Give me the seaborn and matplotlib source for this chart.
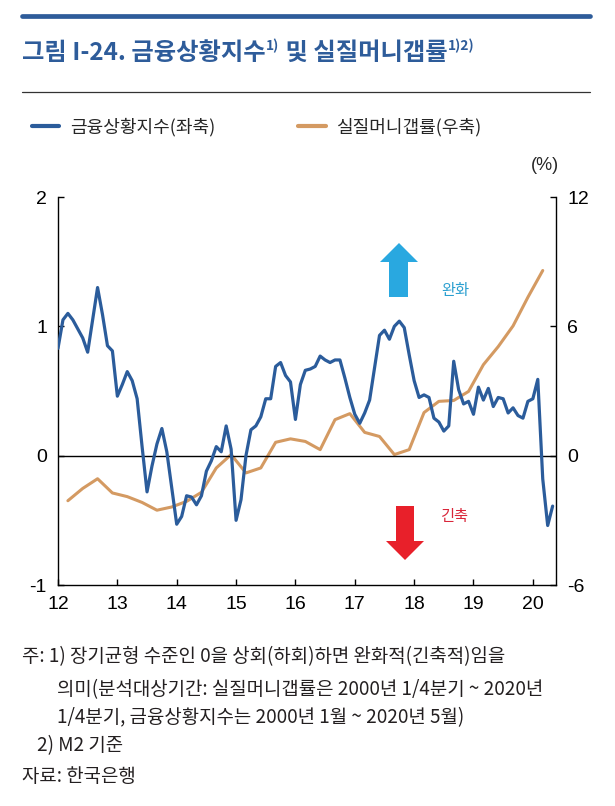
import pandas as pd
import matplotlib.pyplot as plt
import matplotlib.patches as mpatches
from matplotlib.lines import Line2D
import seaborn as sns

# 금융상황지수 (monthly, 2012.1 ~ 2020.5)
fci = [0.83, 1.05, 1.10, 1.05, 0.98, 0.91, 0.80, 1.05, 1.30, 1.09, 0.85, 0.81,
       0.46, 0.55, 0.65, 0.58, 0.44, 0.07, -0.28, -0.08, 0.09, 0.21, 0.03, -0.25,
       -0.53, -0.47, -0.31, -0.32, -0.38, -0.31, -0.12, -0.04, 0.07, 0.03, 0.23, 0.05,
       -0.50, -0.34, 0.00, 0.20, 0.23, 0.30, 0.44, 0.44, 0.69, 0.72, 0.62, 0.57,
       0.28, 0.55, 0.66, 0.67, 0.69, 0.77, 0.74, 0.72, 0.74, 0.74, 0.60, 0.45,
       0.32, 0.25, 0.33, 0.43, 0.68, 0.93, 0.97, 0.90, 1.00, 1.04, 0.99, 0.78,
       0.58, 0.45, 0.47, 0.45, 0.29, 0.26, 0.19, 0.23, 0.73, 0.51, 0.40, 0.42,
       0.32, 0.53, 0.43, 0.52, 0.38, 0.45, 0.44, 0.33, 0.37, 0.31, 0.29, 0.42,
       0.44, 0.59, -0.18, -0.54, -0.39]

# 실질머니갭률 (quarterly, 2012 Q1 ~ 2020 Q1, %)
money_gap = [-2.09, -1.52, -1.07, -1.73,
             -1.90, -2.17, -2.53, -2.38,
             -2.12, -1.70, -0.57, 0.05,
             -0.80, -0.57, 0.62, 0.78,
             0.66, 0.28, 1.67, 1.95,
             1.08, 0.89, 0.05, 0.28,
             2.00, 2.52, 2.56, 2.98,
             4.22, 5.06, 6.02, 7.35,
             8.59]

years = list(range(2012, 2021))
year_labels = ['12', '13', '14', '15', '16', '17', '18', '19', '20']

m_dates = pd.date_range('2012-01-01', periods=len(fci), freq='MS')
q_dates = pd.date_range('2012-03-01', periods=len(money_gap), freq='3MS')
df_m = pd.DataFrame({'t': m_dates.year + (m_dates.month - 1) / 12, 'fci': fci})
df_q = pd.DataFrame({'t': q_dates.year + (q_dates.month - 1) / 12, 'gap': money_gap})

blue = '#2B5C9B'
tan = '#D49A62'

sns.set_style('ticks')
plt.rcParams['font.family'] = ['Noto Sans CJK KR', 'DejaVu Sans']
plt.rcParams['axes.unicode_minus'] = False

W, H = 615, 806
fig = plt.figure(figsize=(W / 100, H / 100), dpi=100)
ax = fig.add_axes([58 / W, 1 - 585 / H, (556 - 58) / W, (585 - 197) / H])
ax2 = ax.twinx()

sns.lineplot(data=df_m, x='t', y='fci', ax=ax, color=blue, lw=2.3, zorder=3)
sns.lineplot(data=df_q, x='t', y='gap', ax=ax2, color=tan, lw=2.2)
ax.set_zorder(ax2.get_zorder() + 1)
ax.patch.set_visible(False)
ax.axhline(0, color='black', lw=1, zorder=1)

ax.set_xlim(2012, 2020.39)
ax.set_ylim(-1, 2)
ax2.set_ylim(-6, 12)
ax.set_yticks([-1, 0, 1, 2])
ax2.set_yticks([-6, 0, 6, 12])
ax.set_xticks(years)
ax.set_xticklabels(year_labels)
ax.set_xlabel('')
ax.set_ylabel('')
ax2.set_ylabel('')

tick_font = ['Liberation Sans Narrow', 'Liberation Sans', 'DejaVu Sans']
for a in (ax, ax2):
    a.spines['top'].set_visible(False)
    for s in a.spines.values():
        s.set_linewidth(1)
        s.set_color('black')
    a.tick_params(direction='in', length=4, width=1, labelsize=14, pad=8, colors='black')
    for lab in a.get_xticklabels() + a.get_yticklabels():
        lab.set_family(tick_font)
ax2.spines['left'].set_visible(False)
ax.spines['right'].set_visible(False)
ax2.spines['bottom'].set_visible(False)

# header rules and title
fig.add_artist(Line2D([22 / W, 590 / W], [1 - 16 / H] * 2, color='#2E5C9A', lw=3.4))
fig.add_artist(Line2D([22 / W, 590 / W], [1 - 92 / H] * 2, color='#333333', lw=0.9))

t1 = fig.text(22 / W, 1 - 60 / H, '그림 I-24. 금융상황지수', fontsize=17.5,
              fontweight='bold', color='#2E5C9A', va='baseline')
s1 = plt.annotate('1)', xy=(1, 0.92), xycoords=t1, xytext=(0.5, 3),
                  textcoords='offset points', fontsize=10, fontweight='bold',
                  color='#2E5C9A', va='top', ha='left')
t2 = plt.annotate(' 및 실질머니갭률', xy=(1, 0), xycoords=(s1, t1), fontsize=17.5,
                  fontweight='bold', color='#2E5C9A', va='bottom', ha='left')
plt.annotate('1)2)', xy=(1, 0.92), xycoords=t2, xytext=(0.5, 3),
             textcoords='offset points', fontsize=10, fontweight='bold',
             color='#2E5C9A', va='top', ha='left')

# legend
handles = [Line2D([], [], color=blue, lw=3), Line2D([], [], color=tan, lw=3)]
fig.legend(handles, ['금융상황지수(좌축)', '실질머니갭률(우축)'], loc='center left',
           bbox_to_anchor=(16 / W, 1 - 127 / H), ncol=2, frameon=False, fontsize=13,
           handlelength=1.5, handletextpad=0.6, columnspacing=4.6)

fig.text(545 / W, 1 - 165 / H, '(%)', fontsize=13, ha='center', va='center',
         family=tick_font)

# direction arrows
up = [(399, 243), (418, 262), (408, 262), (408, 297), (389, 297), (389, 262), (380, 262)]
down = [(396, 506), (414, 506), (414, 541), (424, 541), (405, 560), (386, 541), (396, 541)]
for pts, col in ((up, '#29A8E0'), (down, '#E8202A')):
    poly = mpatches.Polygon([(x / 100, (H - y) / 100) for x, y in pts], closed=True,
                            color=col, lw=0, transform=fig.dpi_scale_trans)
    fig.add_artist(poly)
fig.text(455 / W, 1 - 291 / H, '완화', fontsize=11, color='#2A9FD0', ha='center', va='center')
fig.text(455 / W, 1 - 517 / H, '긴축', fontsize=11, color='#D9263A', ha='center', va='center')

# notes
note_kw = dict(fontsize=13.6, color='#231F20', va='center')
fig.text(22 / W, 1 - 657 / H, '주: 1) 장기균형 수준인 0을 상회(하회)하면 완화적(긴축적)임을', **note_kw)
fig.text(57 / W, 1 - 690 / H, '의미(분석대상기간: 실질머니갭률은 2000년 1/4분기 ~ 2020년', **note_kw)
fig.text(57 / W, 1 - 718 / H, '1/4분기, 금융상황지수는 2000년 1월 ~ 2020년 5월)', **note_kw)
fig.text(37 / W, 1 - 746 / H, '2) M2 기준', **note_kw)
fig.text(22 / W, 1 - 776 / H, '자료: 한국은행', **note_kw)

fig.savefig('out.png', dpi=100)
